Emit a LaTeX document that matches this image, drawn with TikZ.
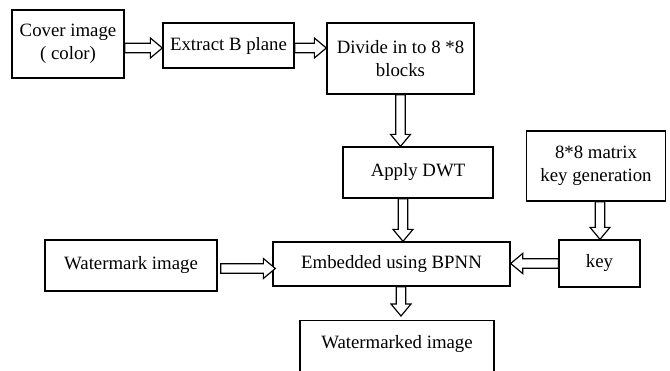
\documentclass[tikz,border=0pt]{standalone}
\usepackage{fontspec}
\setmainfont{Liberation Serif}
\usetikzlibrary{calc}
\tikzset{
 box/.style={draw, line width=1.3pt, rectangle, inner sep=0pt, align=center, font=\fontsize{18.8}{22.5}\selectfont},
 blk/.style={draw, line width=1.2pt, fill=white, line join=miter, to path={
   ($(\tikztostart)!4.7pt!90:(\tikztotarget)$)
   -- ($(\tikztotarget)!12pt!(\tikztostart)!4.7pt!90:(\tikztotarget)$)
   -- ($(\tikztotarget)!12pt!(\tikztostart)!10pt!90:(\tikztotarget)$)
   -- (\tikztotarget)
   -- ($(\tikztotarget)!12pt!(\tikztostart)!10pt!-90:(\tikztotarget)$)
   -- ($(\tikztotarget)!12pt!(\tikztostart)!4.7pt!-90:(\tikztotarget)$)
   -- ($(\tikztostart)!4.7pt!-90:(\tikztotarget)$)
   -- cycle}}
}
\begin{document}
\begin{tikzpicture}[x=1pt,y=-1pt]
\useasboundingbox (0,0) rectangle (670,370);
\fill[white] (0,0) rectangle (670,370);
\clip (0,0) rectangle (670,370);
\node[box, minimum width=112pt, minimum height=68pt] (cover) at (68,44) {Cover image\\( color)};
\node[box, minimum width=131pt, minimum height=45pt] (extract) at (228.5,45.5) {Extract B plane};
\node[box, minimum width=147pt, minimum height=71pt] (divide) at (400.5,58.5) {Divide in to 8 *8\\blocks};
\node[box, minimum width=150pt, minimum height=51pt] (dwt) at (418,172.5) {Apply DWT};
\node[box, minimum width=139pt, minimum height=70pt] (keygen) at (596,166) {8*8 matrix\\key generation};
\node[box, minimum width=172pt, minimum height=51pt] (wm) at (131,265.5) {Watermark image};
\node[box, minimum width=237pt, minimum height=44pt] (emb) at (391.5,264) {Embedded using BPNN};
\node[box, minimum width=81pt, minimum height=47pt] (key) at (599.5,263.5) {key};
\node[box, anchor=north, minimum width=194pt, text height=13pt, text depth=27pt, inner ysep=15pt] (out) at (397,320) {Watermarked image};

\draw[blk] ([yshift=-4pt]cover.east) to ([yshift=-4pt]cover.east -| extract.west);
\draw[blk] ([yshift=-2.5pt]extract.east) to ([yshift=-2.5pt]extract.east -| divide.west);
\draw[blk] (divide.south) to (divide.south |- dwt.north);
\draw[blk] ([xshift=-15pt]dwt.south) to ([xshift=-15pt]dwt.south |- emb.north);
\draw[blk] ([xshift=4pt]keygen.south) to ([xshift=4pt]keygen.south |- key.north);
\draw[blk] ([xshift=3pt,yshift=-3pt]wm.east) to ([xshift=3pt,yshift=-3pt]wm.east -| emb.west);
\draw[blk] (key.west) to (key.west -| emb.east);
\draw[blk] ([xshift=9.5pt]emb.south) to ([xshift=9.5pt,yshift=4pt]emb.south |- out.north);
\end{tikzpicture}
\end{document}
